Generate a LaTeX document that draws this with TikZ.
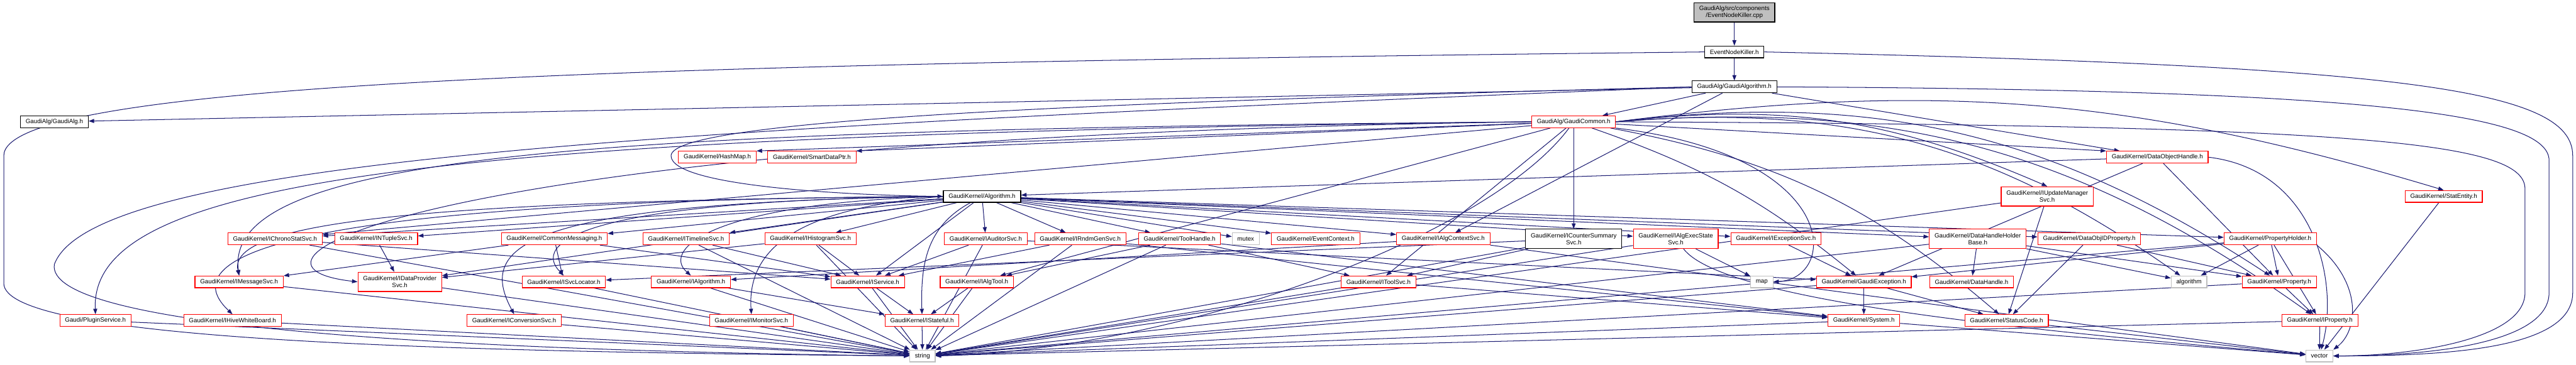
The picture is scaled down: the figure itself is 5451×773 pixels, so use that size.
\documentclass[tikz,border=0pt]{standalone}
\usepackage{fontspec}
\setmainfont{Liberation Sans}
\usepackage{tikz}
\usetikzlibrary{arrows.meta,backgrounds}
\definecolor{edgecol}{RGB}{25,25,112}
\definecolor{syscol}{RGB}{191,191,191}
\tikzset{
  hdr/.style  ={rectangle,draw,fill=white,line width=0.38pt,inner xsep=2.75pt,inner ysep=0.75pt,minimum height=6.25pt,align=center,font=\fontsize{3.25}{3.75}\selectfont},
  trunc/.style={hdr,draw=red},
  sys/.style  ={hdr,draw=syscol},
  root/.style ={hdr,fill=syscol},
  twol/.style ={minimum height=10.25pt},
  dep/.style  ={-{Triangle[length=2.9pt,width=2.1pt]},draw=edgecol,line width=0.34pt},
}
\begin{document}
\begin{tikzpicture}[x=0.25pt,y=0.25pt]
  \useasboundingbox (0,0) rectangle (5451,-773);
  % top: the file, its header, the algorithm base
  \node[root,twol] (cpp) at (3670,-26){GaudiAlg/src/components\\/EventNodeKiller.cpp};
  \node[hdr] (enk) at (3670,-110){EventNodeKiller.h};
  \node[hdr] (galgo) at (3670,-184){GaudiAlg/GaudiAlgorithm.h};
  \node[hdr] (galg) at (115,-258){GaudiAlg/GaudiAlg.h};
  \node[trunc] (gcom) at (3330,-258){GaudiAlg/GaudiCommon.h};
  \node[trunc] (hashmap) at (1518,-333){GaudiKernel/HashMap.h};
  \node[trunc] (smartptr) at (1718,-333){GaudiKernel/SmartDataPtr.h};
  \node[trunc] (dohandle) at (4565,-333){GaudiKernel/DataObjectHandle.h};
  \node[hdr] (algo) at (2078,-416){GaudiKernel/Algorithm.h};
  \node[trunc,twol] (iupd) at (4332,-416){GaudiKernel/IUpdateManager\\Svc.h};
  \node[trunc] (statent) at (5171,-416){GaudiKernel/StatEntity.h};
  % row of service interfaces
  \node[trunc] (ichrono) at (582,-506){GaudiKernel/IChronoStatSvc.h};
  \node[trunc] (intuple) at (796,-506){GaudiKernel/INTupleSvc.h};
  \node[trunc] (commsg) at (1173,-506){GaudiKernel/CommonMessaging.h};
  \node[trunc] (itimeline) at (1452,-506){GaudiKernel/ITimelineSvc.h};
  \node[trunc] (ihisto) at (1715,-506){GaudiKernel/IHistogramSvc.h};
  \node[trunc] (iaudit) at (2086,-506){GaudiKernel/IAuditorSvc.h};
  \node[trunc] (irndm) at (2286,-506){GaudiKernel/IRndmGenSvc.h};
  \node[trunc] (toolh) at (2496,-506){GaudiKernel/ToolHandle.h};
  \node[sys] (mutex) at (2636,-506){mutex};
  \node[trunc] (evctx) at (2784,-506){GaudiKernel/EventContext.h};
  \node[trunc] (ialgctx) at (3054,-506){GaudiKernel/IAlgContextSvc.h};
  \node[hdr,twol] (icounter) at (3330,-506){GaudiKernel/ICounterSummary\\Svc.h};
  \node[trunc,twol] (iexecst) at (3546,-506){GaudiKernel/IAlgExecState\\Svc.h};
  \node[trunc] (iexcsvc) at (3758,-506){GaudiKernel/IExceptionSvc.h};
  \node[trunc,twol] (dhhb) at (4185,-506){GaudiKernel/DataHandleHolder\\Base.h};
  \node[trunc] (doidprop) at (4421,-506){GaudiKernel/DataObjIDProperty.h};
  \node[trunc] (propholder) at (4804,-506){GaudiKernel/PropertyHolder.h};
  % next row
  \node[trunc] (imsg) at (506,-597){GaudiKernel/IMessageSvc.h};
  \node[trunc,twol] (idp) at (846,-597){GaudiKernel/IDataProvider\\Svc.h};
  \node[trunc] (isvcloc) at (1193,-597){GaudiKernel/ISvcLocator.h};
  \node[trunc] (ialgorithm) at (1462,-597){GaudiKernel/IAlgorithm.h};
  \node[trunc] (iservice) at (1836,-597){GaudiKernel/IService.h};
  \node[trunc] (ialgtool) at (2067,-597){GaudiKernel/IAlgTool.h};
  \node[trunc] (itoolsvc) at (2917,-597){GaudiKernel/IToolSvc.h};
  \node[sys] (map) at (3728,-597){map};
  \node[trunc] (gexc) at (3944,-597){GaudiKernel/GaudiException.h};
  \node[trunc] (dhandle) at (4172,-597){GaudiKernel/DataHandle.h};
  \node[sys] (algstd) at (4632,-597){algorithm};
  \node[trunc] (prop) at (4823,-597){GaudiKernel/Property.h};
  % lowest headers
  \node[trunc] (plugin) at (202,-679){Gaudi/PluginService.h};
  \node[trunc] (ihive) at (492,-679){GaudiKernel/IHiveWhiteBoard.h};
  \node[trunc] (iconv) at (1088,-679){GaudiKernel/IConversionSvc.h};
  \node[trunc] (imon) at (1590,-679){GaudiKernel/IMonitorSvc.h};
  \node[trunc] (istate) at (1951,-679){GaudiKernel/IStateful.h};
  \node[trunc] (system) at (3944,-679){GaudiKernel/System.h};
  \node[trunc] (statuscode) at (4246,-679){GaudiKernel/StatusCode.h};
  \node[trunc] (iprop) at (4909,-679){GaudiKernel/IProperty.h};
  \node[sys] (string) at (1952,-754){string};
  \node[sys] (vector) at (4908,-754){vector};

  \begin{scope}[on background layer]
  % top chain and the long loops round the sides
  \draw[dep] (cpp)--(enk); \draw[dep] (enk)--(galgo);
  \draw[dep] (enk.west) .. controls (1400,-135) and (8,-170) .. (8,-330) -- (8,-600) .. controls (8,-720) and (900,-745) .. (string.west);
  \draw[dep] (enk.east) .. controls (5100,-140) and (5444,-190) .. (5444,-330) -- (5444,-620) .. controls (5444,-735) and (5200,-754) .. (vector.east);
  \draw[dep] (galgo)--(galg); \draw[dep] (galgo)--(gcom);
  \draw[dep] (galgo)--(dohandle); \draw[dep] (galgo)--(ialgctx);
  \draw[dep] (galgo.west) .. controls (2400,-215) and (1420,-250) .. (1420,-330) .. controls (1420,-395) and (1800,-414) .. (algo.west);
  \draw[dep] (galgo.west) .. controls (1500,-270) and (200,-330) .. (115,-560) .. controls (95,-690) and (900,-742) .. (string.west);
  \draw[dep] (galgo.east) .. controls (5000,-190) and (5394,-240) .. (5394,-340) -- (5394,-620) .. controls (5394,-725) and (5150,-754) .. (vector.east);
  % GaudiCommon.h
  \draw[dep] (gcom)--(hashmap.north east); \draw[dep] (gcom)--(smartptr.north east);
  \draw[dep] (gcom)--(dohandle.north west); \draw[dep] (gcom)--(icounter);
  \draw[dep] (gcom)--(ichrono); \draw[dep] (gcom)--(ialgtool); \draw[dep] (gcom)--(itoolsvc);
  \draw[dep] (gcom.east) to[bend left=15] (iupd.north);
  \draw[dep] (gcom.east) to[bend left=12] (statent.north);
  \draw[dep] (gcom.west) .. controls (1300,-275) and (470,-320) .. (imsg.north);
  \draw[dep] (gcom.west) .. controls (900,-290) and (430,-560) .. (idp.west);
  \draw[dep] (gcom.west) .. controls (900,-285) and (190,-380) .. (plugin.north);
  \draw[dep] (gcom) to[bend left=10] (gexc);
  \draw[dep] (gcom.south east) .. controls (3900,-330) and (3890,-590) .. (map.east);
  \draw[dep] (gcom) to[bend left=15] (statuscode);
  \draw[dep] (gcom.east) to[bend left=20] (algstd);
  \draw[dep] (gcom.east) to[bend left=20] (prop);
  \draw[dep] (gcom.east) to[bend left=20] (iprop);
  \draw[dep] (gcom) .. controls (3150,-500) and (2500,-740) .. (string.east);
  \draw[dep] (gcom.east) .. controls (5000,-265) and (5343,-300) .. (5343,-400) -- (5343,-620) .. controls (5343,-720) and (5100,-754) .. (vector.east);
  % Algorithm.h
  \draw[dep] (algo)--(ichrono); \draw[dep] (algo)--(intuple); \draw[dep] (algo)--(commsg);
  \draw[dep] (algo)--(itimeline); \draw[dep] (algo)--(ihisto); \draw[dep] (algo)--(iaudit);
  \draw[dep] (algo)--(irndm); \draw[dep] (algo)--(toolh); \draw[dep] (algo)--(mutex);
  \draw[dep] (algo)--(evctx); \draw[dep] (algo)--(ialgctx); \draw[dep] (algo)--(iexecst);
  \draw[dep] (algo)--(iexcsvc); \draw[dep] (algo)--(dhhb); \draw[dep] (algo)--(doidprop);
  \draw[dep] (algo)--(propholder); \draw[dep] (algo)--(idp); \draw[dep] (algo)--(iservice);
  \draw[dep] (algo.west) .. controls (900,-425) and (480,-470) .. (imsg.north);
  \draw[dep] (algo.west) .. controls (1200,-425) and (1130,-520) .. (isvcloc.north);
  \draw[dep] (algo.west) .. controls (1500,-430) and (1400,-530) .. (ialgorithm.north);
  \draw[dep] (algo.west) .. controls (500,-425) and (380,-560) .. (ihive.north);
  \draw[dep] (algo.west) .. controls (1100,-430) and (1010,-520) .. (iconv.north);
  \draw[dep] (algo.west) .. controls (1700,-440) and (1580,-520) .. (imon.north);
  \draw[dep] (algo) .. controls (1960,-480) and (1948,-560) .. (istate.north);
  % the rest of the upper headers
  \draw[dep] (dohandle)--(algo); \draw[dep] (dohandle)--(gexc); \draw[dep] (dohandle)--(prop);
  \draw[dep] (dohandle.east) .. controls (4900,-360) and (4950,-600) .. (vector);
  \draw[dep] (iupd)--(statuscode); \draw[dep] (iupd)--(string);
  \draw[dep] (statent)--(vector);
  % service interfaces
  \draw[dep] (ichrono)--(string); \draw[dep] (ichrono)--(iservice); \draw[dep] (intuple)--(idp);
  \draw[dep] (commsg)--(imsg); \draw[dep] (commsg)--(isvcloc); \draw[dep] (commsg)--(iservice);
  \draw[dep] (itimeline)--(iservice); \draw[dep] (itimeline)--(string);
  \draw[dep] (ihisto)--(iservice); \draw[dep] (ihisto)--(idp); \draw[dep] (ihisto)--(string);
  \draw[dep] (iaudit)--(iservice); \draw[dep] (iaudit)--(string); \draw[dep] (iaudit)--(gexc);
  \draw[dep] (irndm)--(iservice); \draw[dep] (irndm)--(string); \draw[dep] (irndm)--(system);
  \draw[dep] (toolh)--(ialgtool); \draw[dep] (toolh)--(itoolsvc); \draw[dep] (toolh)--(string);
  \draw[dep] (toolh)--(system);
  \draw[dep] (ialgctx)--(ialgorithm); \draw[dep] (ialgctx)--(vector);
  \draw[dep] (icounter)--(itoolsvc); \draw[dep] (icounter)--(string); \draw[dep] (icounter)--(isvcloc);
  \draw[dep] (iexecst)--(string); \draw[dep] (iexecst)--(map);
  \draw[dep] (iexecst) .. controls (3650,-640) and (4300,-700) .. (vector);
  \draw[dep] (iexcsvc)--(gexc);
  \draw[dep] (dhhb)--(dhandle); \draw[dep] (dhhb)--(algstd); \draw[dep] (dhhb)--(prop);
  \draw[dep] (dhhb)--(string);
  \draw[dep] (doidprop)--(statuscode); \draw[dep] (doidprop)--(prop);
  \draw[dep] (propholder)--(gexc); \draw[dep] (propholder)--(algstd); \draw[dep] (propholder)--(prop);
  \draw[dep] (propholder)--(iprop); \draw[dep] (propholder)--(string);
  \draw[dep] (propholder.south east) .. controls (5000,-600) and (4990,-700) .. (vector.north east);
  % lower rows
  \draw[dep] (imsg)--(string); \draw[dep] (idp)--(string); \draw[dep] (isvcloc)--(string);
  \draw[dep] (ialgorithm)--(istate); \draw[dep] (ialgorithm)--(string);
  \draw[dep] (iservice)--(istate); \draw[dep] (iservice)--(string);
  \draw[dep] (ialgtool)--(istate); \draw[dep] (ialgtool)--(string);
  \draw[dep] (itoolsvc)--(string); \draw[dep] (itoolsvc)--(system);
  \draw[dep] (gexc)--(system); \draw[dep] (gexc)--(string); \draw[dep] (gexc)--(statuscode);
  \draw[dep] (prop)--(iprop); \draw[dep] (prop)--(string);
  \draw[dep] (plugin)--(string); \draw[dep] (ihive)--(string); \draw[dep] (iconv)--(string);
  \draw[dep] (imon)--(string); \draw[dep] (istate)--(string);
  \draw[dep] (system)--(string); \draw[dep] (system)--(vector);
  \draw[dep] (statuscode)--(vector); \draw[dep] (iprop)--(vector); \draw[dep] (iprop)--(string);
  \end{scope}
\end{tikzpicture}
\end{document}
